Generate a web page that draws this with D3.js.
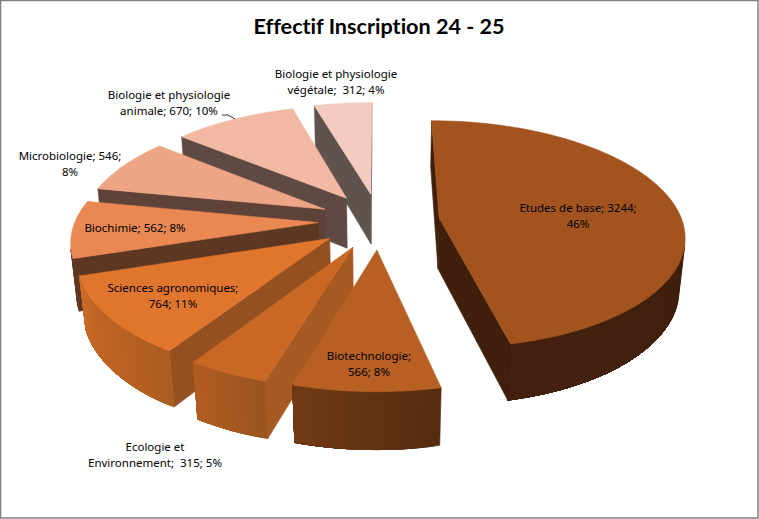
<!DOCTYPE html>
<html><head><meta charset="utf-8">
<script src="https://cdn.jsdelivr.net/npm/d3@7/dist/d3.min.js"></script>
<style>html,body{margin:0;padding:0;background:#fff}svg{display:block}</style>
</head><body><svg id="c" width="759" height="519"></svg>
<script>
const categories=["Etudes de base","Biotechnologie","Ecologie et Environnement","Sciences agronomiques","Biochimie","Microbiologie","Biologie et physiologie animale","Biologie et physiologie végétale"];
const values=[3244,566,315,764,562,546,670,312];
const percents=[46,8,5,11,8,8,10,4];
const titleText="Effectif Inscription 24 - 25";
const topColors=["#A3541E","#B86024","#C96825","#E0752E","#E98853","#EDA585","#F2B8A3","#F3CCBF"];
const radialWallColors=["#40200D","#5A2E11","#A65A21","#945020","#5E3722","#5F4237","#5F4A43","#60534E"];
const outerWallStart=["#40200D","#552C10","#9B5420","#AB5C20","#5E3722","#5F4237","#5F4A43","#60534E"];
const outerWallEnd=["#43210E","#703A15","#B05C20","#CC6A27","#5E3722","#5F4237","#5F4A43","#60534E"];
const labelLines=[["Etudes de base; 3244;","46%"],["Biotechnologie;","566; 8%"],["Ecologie et","Environnement;  315; 5%"],["Sciences agronomiques;","764; 11%"],["Biochimie; 562; 8%"],["Microbiologie; 546;","8%"],["Biologie et physiologie","animale; 670; 10%"],["Biologie et physiologie","végétale;  312; 4%"]];
const labelCentres=[[578,216],[369,364],[155,455],[173,296],[135,228],[70,164],[169,103],[336,82]];
const leader=[[222,115],[228,115],[235,119]];

const cx=379,cy=221,S=243,K=112,D=52,P=.144,Q=.02,EXPLODE=.25;
const project=(u,v,z)=>{const w=1+P*v+Q*z;return [cx+S*u/w,cy-(K*v-D*z)/w];};
const svg=d3.select("#c");
svg.append("rect").attr("x",.5).attr("y",.5).attr("width",757.5).attr("height",517.5).attr("fill","#fff").attr("stroke","#808080").attr("stroke-width",1.5);
svg.append("text").attr("x",379).attr("y",34).attr("text-anchor","middle").attr("font-family","Lato").attr("font-weight",700).attr("font-size",21.6).style("font-variant-ligatures","none").text(titleText);

const arcs=d3.pie().sort(null).value(d=>d)(values);
const line=d3.line();
const poly=(g,pts,fill)=>g.append("path").attr("d",line(pts)+"Z").attr("fill",fill).attr("stroke",fill).attr("stroke-width",.6).attr("stroke-linejoin","round");
const area=pts=>d3.polygonArea(pts);

arcs.map((a,i)=>({a,i,mid:(a.startAngle+a.endAngle)/2}))
 .sort((p,q)=>Math.cos(q.mid)-Math.cos(p.mid))
 .forEach(({a,i,mid})=>{
  const g=svg.append("g");
  const ou=EXPLODE*Math.sin(mid),ov=EXPLODE*Math.cos(mid);
  const steps=Math.max(4,Math.ceil((a.endAngle-a.startAngle)/.02));
  const ts=d3.range(steps+1).map(s=>a.startAngle+(a.endAngle-a.startAngle)*s/steps);
  const rim=z=>ts.map(t=>project(ou+Math.sin(t),ov+Math.cos(t),z));
  const top=rim(0),bot=rim(1),apexT=project(ou,ov,0),apexB=project(ou,ov,1);
  const w1=[apexT,top[0],bot[0],apexB];
  if(area(w1)>0) poly(g,w1,radialWallColors[i]);
  const w2=[apexT,apexB,bot[steps],top[steps]];
  if(area(w2)>0) poly(g,w2,radialWallColors[i]);
  const vis=d3.range(steps).filter(s=>area([top[s],top[s+1],bot[s+1],bot[s]])>0);
  if(vis.length){
    const last=vis[vis.length-1]+1;
    const col=d3.scaleLinear().domain(d3.extent(vis)).range([outerWallStart[i],outerWallEnd[i]]).interpolate(d3.interpolateRgb);
    // each band paints over everything still to come, so no seams appear between bands
    vis.forEach(s=>poly(g,[...top.slice(s,last+1),...bot.slice(s,last+1).reverse()],col(s)));
  }
  poly(g,[apexT,...top],topColors[i]);
 });

svg.append("path").attr("d",line(leader)).attr("fill","none").attr("stroke","#000").attr("stroke-width",.8);
const lh=16;
labelLines.forEach((ls,i)=>{
  const t=svg.append("text").attr("text-anchor","middle").attr("font-family","Noto Sans").attr("font-size",11.5).attr("fill","#000");
  ls.forEach((s,j)=>t.append("tspan").attr("xml:space","preserve").attr("x",labelCentres[i][0]).attr("y",labelCentres[i][1]+(j-(ls.length-1)/2)*lh+4).text(s));
});
</script></body></html>
